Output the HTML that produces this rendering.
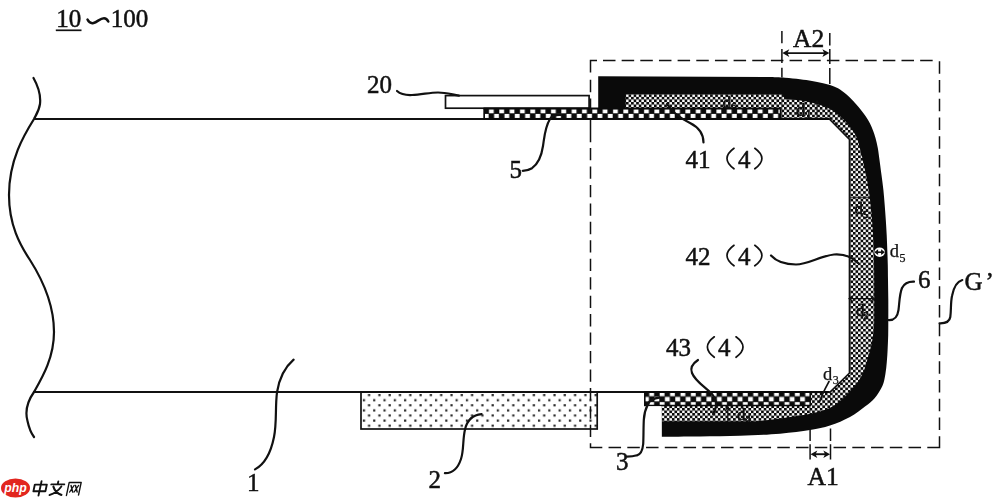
<!DOCTYPE html>
<html>
<head>
<meta charset="utf-8">
<title>Figure</title>
<style>
html,body{margin:0;padding:0;background:#fff;}
body{width:1000px;height:498px;overflow:hidden;font-family:"Liberation Serif",serif;}
svg{display:block;}
text{font-family:"Liberation Serif",serif;fill:#111;stroke:#111;stroke-width:0.5;}
.ln{fill:none;stroke:#111;stroke-width:1.7;stroke-linecap:round;stroke-linejoin:round;}
.ld{fill:none;stroke:#111;stroke-width:2.2;stroke-linecap:round;stroke-linejoin:round;}
.ds{fill:none;stroke:#111;stroke-width:1.5;}
.in text{stroke-width:0.45;}
</style>
</head>
<body>
<svg width="1000" height="498" viewBox="0 0 1000 498">
<defs>
  <!-- big checker, top layer (5) -->
  <pattern id="bigA" patternUnits="userSpaceOnUse" x="623.2" y="108.3" width="10.34" height="10.4">
    <rect width="10.34" height="10.4" fill="#0a0a0a"/>
    <rect x="0.2" y="0.4" width="4.77" height="4.6" fill="#fff"/>
    <rect x="5.37" y="5.6" width="4.77" height="4.6" fill="#fff"/>
  </pattern>
  <!-- big checker, bottom layer (3) -->
  <pattern id="bigB" patternUnits="userSpaceOnUse" x="654.3" y="396.5" width="10.4" height="10.4">
    <rect width="10.4" height="10.4" fill="#0a0a0a"/>
    <rect x="0.2" y="0.4" width="4.8" height="4.5" fill="#fff"/>
    <rect x="5.4" y="5.6" width="4.8" height="4.5" fill="#fff"/>
  </pattern>
  <!-- fine checker (layer 4) -->
  <pattern id="fine" patternUnits="userSpaceOnUse" x="626" y="94.3" width="5.1" height="5.1">
    <rect width="5.1" height="5.1" fill="#0a0a0a"/>
    <rect x="0.1" y="0.1" width="2.45" height="2.45" fill="#fff"/>
    <rect x="2.65" y="2.65" width="2.45" height="2.45" fill="#fff"/>
  </pattern>
  <!-- dots (layer 2) -->
  <pattern id="dots" patternUnits="userSpaceOnUse" x="363.8" y="394" width="10.3" height="10.2">
    <rect width="10.3" height="10.2" fill="#fff"/>
    <rect x="4.2" y="0" width="2.2" height="2.2" fill="#2a2a2a"/>
    <rect x="-0.95" y="5.1" width="2.2" height="2.2" fill="#2a2a2a"/>
    <rect x="9.35" y="5.1" width="2.2" height="2.2" fill="#2a2a2a"/>
  </pattern>
  <filter id="gray" x="0" y="0" width="1000" height="498" filterUnits="userSpaceOnUse" color-interpolation-filters="sRGB"><feColorMatrix type="saturate" values="0"/></filter>
  <marker id="ah" viewBox="0 0 10 10" refX="9.6" refY="5" markerWidth="8" markerHeight="8" orient="auto-start-reverse" markerUnits="userSpaceOnUse">
    <path d="M0,0.4 L10,5 L0,9.6 L3.2,5 Z" fill="#111"/>
  </marker>
</defs>

<rect x="0" y="0" width="1000" height="498" fill="#fff"/>
<g filter="url(#gray)">


<!-- glass (1) outline -->
<path class="ln" style="stroke-width:2;stroke-linecap:butt" d="M34,119 H484"/>
<path class="ln" style="stroke-width:2;stroke-linecap:butt" d="M34,392 H645"/>
<!-- wavy break line on the left -->
<path class="ld" d="M33.5,78 C38,86 41,95 40,104 C39,111 36,115 34,119 C24,135 9,160 9,195 C9,225 20,245 30,260 C44,282 54,305 54,332 C54,358 42,378 34,392 C27,402 25,412 27.5,421 C29,428 31,433 34,437"/>

<!-- layer 20 -->
<rect x="445.5" y="95.6" width="143.6" height="12.6" fill="#fff" stroke="#111" stroke-width="1.7"/>

<!-- layer 2 (dotted) -->
<rect x="361" y="392" width="236.2" height="37" fill="url(#dots)" stroke="#111" stroke-width="1.7"/><path d="M360,392 H598.2" stroke="#111" stroke-width="2" fill="none"/>

<!-- layer 6 (black) -->
<path fill="#0a0a0a" d="M598.2,76.2 L770,77 C772.50,77.12 780.00,77.33 785.00,77.70 C790.00,78.07 795.50,78.65 800.00,79.20 C804.50,79.75 808.33,80.37 812.00,81.00 C815.67,81.63 819.00,82.33 822.00,83.00 C825.00,83.67 827.33,84.12 830.00,85.00 C832.67,85.88 835.33,86.80 838.00,88.30 C840.67,89.80 843.50,91.93 846.00,94.00 C848.50,96.07 850.67,98.23 853.00,100.70 C855.33,103.17 857.92,106.25 860.00,108.80 C862.08,111.35 863.83,113.53 865.50,116.00 C867.17,118.47 868.75,121.18 870.00,123.60 C871.25,126.02 872.08,128.10 873.00,130.50 C873.92,132.90 874.70,135.08 875.50,138.00 C876.30,140.92 877.13,144.33 877.80,148.00 C878.47,151.67 878.88,155.50 879.50,160.00 C880.12,164.50 880.85,170.00 881.50,175.00 C882.15,180.00 882.87,185.00 883.40,190.00 C883.93,195.00 884.30,200.00 884.70,205.00 C885.10,210.00 885.47,215.00 885.80,220.00 C886.13,225.00 886.45,230.00 886.70,235.00 C886.95,240.00 887.12,245.00 887.30,250.00 C887.48,255.00 887.68,260.00 887.80,265.00 C887.92,270.00 887.92,274.17 888.00,280.00 C888.08,285.83 888.25,293.33 888.30,300.00 C888.35,306.67 888.32,314.17 888.30,320.00 C888.28,325.83 888.32,330.00 888.20,335.00 C888.08,340.00 887.83,345.50 887.60,350.00 C887.37,354.50 887.17,358.00 886.80,362.00 C886.43,366.00 886.13,370.00 885.40,374.00 C884.67,378.00 884.20,381.97 882.40,386.00 C880.60,390.03 877.50,394.77 874.60,398.20 C871.70,401.63 869.10,403.47 865.00,406.60 C860.90,409.73 855.83,413.83 850.00,417.00 C844.17,420.17 836.67,423.42 830.00,425.60 C823.33,427.78 818.33,428.75 810.00,430.10 C801.67,431.45 791.67,432.75 780.00,433.70 C768.33,434.65 753.33,435.33 740.00,435.80 C726.67,436.27 713.07,436.35 700.00,436.50 C686.93,436.65 668.00,436.67 661.60,436.70 L661.6,405 L830,405 L849.5,373 L849.5,139.4 L829.3,119 L781,119 L781,108.7 L598.2,108.7 Z"/>

<!-- layer 4 (fine checker) -->
<path fill="url(#fine)" d="M625.8,94.3 L782,94.6 L785.5,99 C788.58,99.33 798.58,100.07 804.00,101.00 C809.42,101.93 813.30,103.07 818.00,104.60 C822.70,106.13 827.48,107.27 832.20,110.20 C836.92,113.13 842.32,117.85 846.30,122.20 C850.28,126.55 853.77,131.67 856.10,136.30 C858.43,140.93 859.18,146.05 860.30,150.00 C861.42,153.95 861.85,155.83 862.80,160.00 C863.75,164.17 865.02,170.00 866.00,175.00 C866.98,180.00 867.93,185.00 868.70,190.00 C869.47,195.00 870.05,200.00 870.60,205.00 C871.15,210.00 871.60,215.00 872.00,220.00 C872.40,225.00 872.70,230.00 873.00,235.00 C873.30,240.00 873.62,244.17 873.80,250.00 C873.98,255.83 874.03,263.33 874.10,270.00 C874.17,276.67 874.18,283.33 874.20,290.00 C874.22,296.67 874.23,304.00 874.20,310.00 C874.17,316.00 874.32,321.00 874.00,326.00 C873.68,331.00 873.03,335.67 872.30,340.00 C871.57,344.33 870.55,348.33 869.60,352.00 C868.65,355.67 867.78,358.33 866.60,362.00 C865.42,365.67 864.48,370.00 862.50,374.00 C860.52,378.00 857.92,381.97 854.70,386.00 C851.48,390.03 846.92,394.77 843.20,398.20 C839.48,401.63 836.27,404.40 832.40,406.60 C828.53,408.80 825.40,409.90 820.00,411.40 C814.60,412.90 806.67,414.40 800.00,415.60 C793.33,416.80 787.00,417.65 780.00,418.60 C773.00,419.55 761.67,420.85 758.00,421.30 L661.9,421.3 L661.9,405 L810.5,405 L810.5,392.3 L829.8,392.3 L849.5,373 L849.5,139.4 L829.3,119 L781,119 L781,108.7 L625.8,108.7 Z"/>

<!-- layer 5 (big checker, top) -->
<rect x="483.7" y="108.5" width="297.3" height="10" fill="url(#bigA)"/>
<path d="M483.5,108.6 H781.2" stroke="#0a0a0a" stroke-width="2" fill="none"/>
<path d="M483.5,119 H829.3" stroke="#0a0a0a" stroke-width="2" fill="none"/>
<path d="M484.2,108 V119.8" stroke="#0a0a0a" stroke-width="1.6" fill="none"/>
<path d="M780.5,108 V119.5" stroke="#0a0a0a" stroke-width="1.4" fill="none"/>

<!-- layer 3 (big checker, bottom) -->
<rect x="645" y="392.5" width="165.5" height="12.6" fill="url(#bigB)"/>
<path d="M644.2,392 H829.8" stroke="#0a0a0a" stroke-width="2" fill="none"/>
<path d="M644.8,391.6 V406" stroke="#0a0a0a" stroke-width="1.6" fill="none"/>
<path d="M644.2,405.5 H810.8" stroke="#0a0a0a" stroke-width="1.6" fill="none"/>
<path d="M810.3,392.3 V405.5" stroke="#0a0a0a" stroke-width="1.3" fill="none"/>
<!-- gap between layer 3 and layers 4/6 on the left (white) -->
<rect x="645.7" y="406.3" width="15.9" height="32" fill="#fff"/>

<!-- glass corner chamfers -->
<path class="ln" d="M829.3,119 L849.5,139.4 V373 L829.8,392.3" stroke-width="1.4"/>

<!-- dashed region G' -->
<path class="ds" d="M589.80,60.60 H597 M603.00,60.60 H615.50 M621.66,60.60 H634.16 M640.31,60.60 H652.81 M658.97,60.60 H671.47 M677.62,60.60 H690.12 M696.28,60.60 H708.78 M714.94,60.60 H727.44 M733.59,60.60 H746.09 M752.25,60.60 H764.75 M770.91,60.60 H783.41 M789.56,60.60 H802.06 M808.22,60.60 H820.72 M826.88,60.60 H839.38 M845.53,60.60 H858.03 M864.19,60.60 H876.69 M882.84,60.60 H895.34 M901.50,60.60 H914.00 M920.16,60.60 H932.66 M939.50,61.20 V73.70 M939.50,79.95 V92.45 M939.50,98.70 V111.20 M939.50,117.45 V129.95 M939.50,136.20 V148.70 M939.50,154.95 V167.45 M939.50,173.70 V186.20 M939.50,192.45 V204.95 M939.50,211.20 V223.70 M939.50,229.95 V242.45 M939.50,248.70 V261.20 M939.50,267.45 V279.95 M939.50,286.20 V298.70 M939.50,304.95 V317.45 M939.50,323.70 V336.20 M939.50,342.45 V354.95 M939.50,361.20 V373.70 M939.50,379.95 V392.45 M939.50,398.70 V411.20 M939.50,417.45 V429.95 M939.50,436.20 V448.30 M589.80,447.60 H602.30 M608.55,447.60 H621.05 M627.30,447.60 H639.80 M646.05,447.60 H658.55 M664.80,447.60 H677.30 M683.55,447.60 H696.05 M702.30,447.60 H714.80 M721.05,447.60 H733.55 M739.80,447.60 H752.30 M758.55,447.60 H771.05 M777.30,447.60 H789.80 M796.05,447.60 H808.55 M814.80,447.60 H827.30 M833.55,447.60 H846.05 M852.30,447.60 H864.80 M871.05,447.60 H883.55 M889.80,447.60 H902.30 M908.55,447.60 H921.05 M927.30,447.60 H939.80 M590.50,59.90 V72.40 M590.50,79.75 V92.25 M590.50,98.50 V111.00 M590.50,119.5 V142.3 M590.50,148.05 V160.35 M590.50,166.50 V178.80 M590.50,184.95 V197.25 M590.50,203.40 V215.70 M590.50,221.85 V234.15 M590.50,240.30 V252.60 M590.50,258.75 V271.05 M590.50,277.20 V289.50 M590.50,295.65 V307.95 M590.50,314.10 V326.40 M590.50,332.55 V344.85 M590.50,351.00 V363.30 M590.50,369.45 V381.75 M590.50,387.90 V400.20 M590.50,406.35 V418.65 M590.50,424.80 V437.10 M590.50,443.25 V448.30"/>

<!-- A2 dimension -->
<path class="ds" d="M781.9,31 V43.3 M781.9,49 V63 M781.9,67.7 V77.5 M829.8,33 V45.6 M829.8,49 V64 M829.8,68 V84"/>
<path d="M781.9,97 V119 M829.8,103 V119" stroke="#111" stroke-width="1" fill="none" opacity="0.55"/>
<path d="M786,53.1 H826" stroke="#111" stroke-width="1.9" fill="none"/><path d="M782.3,53.1 L789.3,49.3 L787.5,53.1 L789.3,56.9 Z M829.4,53.1 L822.4,49.3 L824.2,53.1 L822.4,56.9 Z" fill="#111"/>
<text x="793" y="46.6" font-size="25.5">A2</text>

<!-- A1 dimension -->
<path class="ds" d="M810.1,428.6 V441 M810.1,444.2 V459.5 M830.5,428.6 V441 M830.5,444.2 V459.5"/>
<path d="M810.1,393 V413 M830.5,393 V406" stroke="#111" stroke-width="1" fill="none" opacity="0.55"/>
<path d="M814,454.2 H826.5" stroke="#111" stroke-width="1.9" fill="none"/><path d="M810.5,454.2 L817.3,450.4 L815.5,454.2 L817.3,458 Z M830.1,454.2 L823.3,450.4 L825.1,454.2 L823.3,458 Z" fill="#111"/>
<text x="807.5" y="485" font-size="25.5">A1</text>

<!-- labels -->
<text x="56.3" y="27.3" font-size="25">10</text>
<path d="M55.8,30.3 H81.5" stroke="#111" stroke-width="1.7" fill="none"/>
<path class="ld" style="stroke-width:2.5" d="M87.5,19.5 C89,22.5 91,23.6 93.5,23 C97.5,22 100,18.2 104,18.2 C106,18.2 107.5,19.8 108.3,21.5"/>
<text x="110.8" y="27.3" font-size="25">100</text>

<text x="367" y="93.3" font-size="25">20</text>
<path class="ld" d="M397,91 C401,94.5 406,95.3 412,95 C422,94.5 430,92.5 438,92.5 C446,92.5 452,94.5 459,95.6"/>

<text x="509.5" y="177.6" font-size="25">5</text>
<path class="ld" d="M561,115 C556,114.6 552,115.5 550,119 C545,127 544.5,136 543,146 C541.5,156 538,164 532,168.2 C529,170 526,170.8 522.7,170.8"/>

<text x="685.5" y="167.5" font-size="25">41</text>
<path class="ln" stroke-width="1.3" d="M734,148.3 Q720,158.5 734,168.8"/>
<text x="738" y="167.5" font-size="25">4</text>
<path class="ln" stroke-width="1.3" d="M754.8,148.3 Q769,158.5 754.8,168.8"/>
<path class="ld" d="M667,104 C672,112 680,118 690,123 C699,127.5 703.5,133 703.5,142.5"/>

<text x="685.5" y="264.5" font-size="25">42</text>
<path class="ln" stroke-width="1.3" d="M734,245.3 Q720,255.5 734,265.8"/>
<text x="738" y="264.5" font-size="25">4</text>
<path class="ln" stroke-width="1.3" d="M754.8,245.3 Q769,255.5 754.8,265.8"/>
<path class="ld" d="M771,255.5 C776,261 785,264.5 796,264.5 C808,264.5 820,256 834,254.5 C844,253.8 852,257 858,263"/>

<text x="666" y="355.7" font-size="25">43</text>
<path class="ln" stroke-width="1.3" d="M714.3,336.8 Q700.5,347 714.3,357.3"/>
<text x="718" y="355.7" font-size="25">4</text>
<path class="ln" stroke-width="1.3" d="M736,336.8 Q750,347 736,357.3"/>
<path class="ld" d="M698,360 C692,364 690,368 692,373 C695,381 705,387 712,394 C716,399 717,405 715,410 C714,412 713.5,413 713,414"/>

<text x="918" y="288" font-size="25">6</text>
<path class="ld" d="M888,320 C895,320.5 897.5,317 898.5,310 C899.5,302 899.5,294 902,288 C904.5,283 909,281.5 914,281.7"/>

<text x="964.5" y="290" font-size="25">G</text>
<text x="985.5" y="290" font-size="25">’</text>
<path class="ld" d="M939.5,323.3 C946,323.5 949.5,322 950.3,317 C951.3,310 950.5,303 952,296 C953.5,288 957,281.5 962.3,280"/>

<text x="247" y="490.7" font-size="25">1</text>
<path class="ld" d="M293.6,359.7 C284,368 279,380 277,392.3 C275,408 277,422 274,437 C271,452 265,464 255,469.4"/>

<text x="428.5" y="487.5" font-size="25">2</text>
<path class="ld" d="M481.6,414.2 C472,415 467,421 465,429.5 C462.5,440 464,450 461,459 C458,468 453,473.5 444.9,473.2"/>

<text x="616" y="470.4" font-size="25">3</text>
<path class="ld" d="M659.3,397.7 C653,398.5 649.5,401 648,404 C645,410 644,415 643.8,420 C643.4,428 643.6,436 643.2,444 C642.5,451 641,454.5 637,455.3 C634,456.3 630.5,456.7 627,456.7"/>

<!-- small thickness labels -->
<g font-size="18.5" style="stroke-width:0.25">
  <text x="889.8" y="257.2" style="stroke-width:0.25">d</text><text x="899.6" y="261.8" font-size="12" style="stroke-width:0.25">5</text>
  <text x="823" y="380" style="stroke-width:0.25">d</text><text x="832.8" y="383.5" font-size="12" style="stroke-width:0.25">3</text>
</g>
<g class="in" font-size="17">
  <text x="856" y="316">d</text><text x="863.5" y="319" font-size="10">2</text>
  <text x="854.5" y="214">d</text><text x="863" y="217.5" font-size="11">5</text>
  <text x="737" y="419.5">d</text><text x="745.5" y="422" font-size="11">4</text>
  <text x="722.5" y="107.5">d</text><text x="731" y="109.5" font-size="11">6</text>
  <text x="796" y="115.5" font-size="19">d</text><text x="805.5" y="118" font-size="12">1</text>
</g>
<!-- d5 marker -->
<ellipse cx="879.6" cy="252.2" rx="5.3" ry="4.8" fill="#fff"/>
<path d="M876,252.2 H883.4" stroke="#111" stroke-width="1.6" fill="none"/>
<path d="M874.3,252.2 l3.8,-2.9 v5.8 z M884.9,252.2 l-3.8,-2.9 v5.8 z" fill="#111"/>
<!-- d3 leader -->
<path class="ln" stroke-width="1.3" d="M829,381.5 C826,387 822,394 819.5,402"/>
<!-- d2 arrow -->
<path d="M848.5,298.7 H874.5 M853,295.8 L849.2,298.7 L853,301.6 M870.5,295.8 L874.3,298.7 L870.5,301.6" stroke="#111" stroke-width="1.3" fill="none"/>
<!-- d5' arrow inside layer (upper right) -->
<path d="M850,197.8 H869.3" stroke="#111" stroke-width="1" fill="none"/>
<path d="M817,100.5 V119 M814.8,104.5 L817,100.5 L819.2,104.5" stroke="#111" stroke-width="1" fill="none"/>
<!-- d4 arrow -->
<path d="M727.8,421 V407 M725.3,411 L727.8,406.5 L730.3,411" stroke="#111" stroke-width="1.2" fill="none"/>
</g>

<!-- php logo -->
<g>
<ellipse cx="15.5" cy="488" rx="14.5" ry="9.6" fill="#e2261f"/>
<text x="4.2" y="492" font-style="italic" font-weight="bold" font-size="13" style="font-family:'Liberation Sans',sans-serif;fill:#fff;stroke:none" textLength="22.5" lengthAdjust="spacingAndGlyphs">php</text>
<g fill="none" stroke="#111" stroke-width="1.9" stroke-linecap="round" stroke-linejoin="round" transform="translate(33,481) skewX(-12)">
  <path d="M2.6,3.6 H14.6 V10.2 H2.6 Z M8.6,0.3 V14.6"/>
  <path d="M25.4,0.5 V2.8 M19,3.4 H32 M21.5,5.5 C23.5,9.5 27,12.5 31.5,14 M29.5,5.5 C27.5,9.5 24,12.5 19.5,14"/>
  <path d="M36.5,14.5 V1.5 H48.5 V14 M39,4.5 L42,11 M42,4.5 L39,11 M43.5,4.5 L46.5,11 M46.5,4.5 L43.5,11" stroke-width="1.4"/>
</g>
</g>
</svg>
</body>
</html>
